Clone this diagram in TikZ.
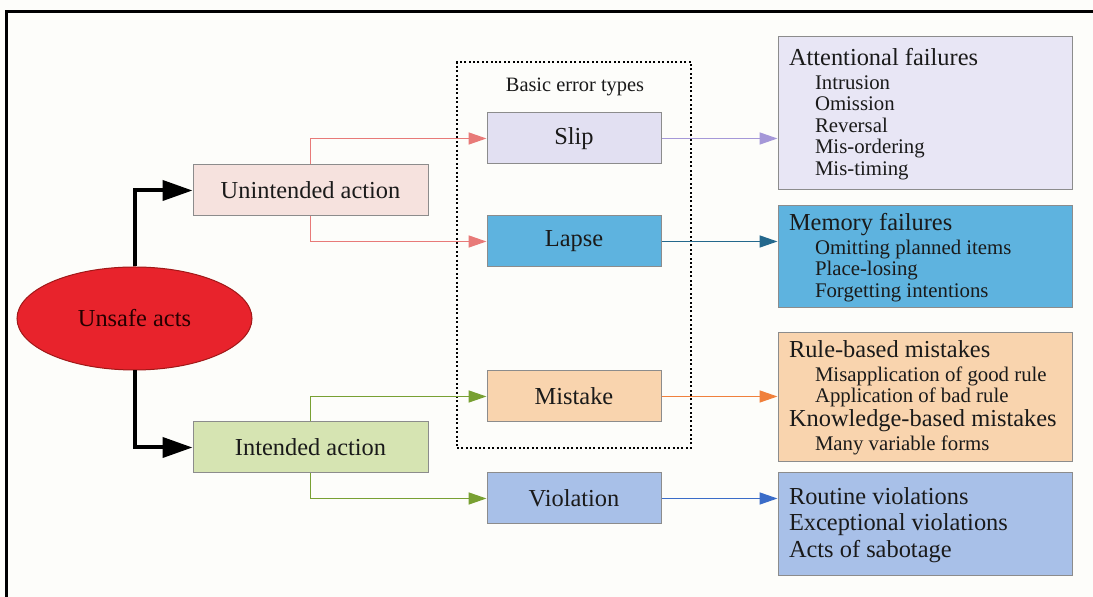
\documentclass[tikz,border=0pt]{standalone}
\usepackage{fontspec}
\setmainfont{Liberation Serif}
\usetikzlibrary{arrows.meta,shapes.geometric}

\definecolor{paper}{HTML}{FDFDFA}
\definecolor{ink}{HTML}{1A1A1A}
\definecolor{edge}{HTML}{8C8C8C}
\definecolor{actred}{HTML}{E8232C}
\definecolor{actedge}{HTML}{A01818}
\definecolor{unfill}{HTML}{F6E2DE}
\definecolor{infill}{HTML}{D6E4B2}
\definecolor{slipfill}{HTML}{E2E0F2}
\definecolor{attfill}{HTML}{E8E6F5}
\definecolor{lapsefill}{HTML}{5EB3DF}
\definecolor{mistfill}{HTML}{F9D4AE}
\definecolor{violfill}{HTML}{A8C0E8}
\definecolor{redarrow}{HTML}{E87A78}
\definecolor{greenarrow}{HTML}{78A032}
\definecolor{purplearrow}{HTML}{A598D8}
\definecolor{tealarrow}{HTML}{24688C}
\definecolor{orangearrow}{HTML}{F0803C}
\definecolor{bluearrow}{HTML}{3A6CC8}

\newcommand{\mainsize}{\fontsize{12.2}{14}\selectfont}
% one heading line of a list box
\newcommand{\listhead}[1]{\par{\fontsize{12.2}{12}\selectfont #1\par}\vspace{1.3pt}}
% one indented item line of a list box
\newcommand{\listitem}[1]{\par{\fontsize{10.4}{10.7}\selectfont\hspace*{13pt}#1\par}}
% one plain line of large text
\newcommand{\listplain}[1]{\par{\fontsize{12.2}{13.3}\selectfont #1\par}}
% fixed-height text block: #1 height, #2 space above first line, #3 lines
\newcommand{\listblock}[3]{\parbox[c][#1][t]{136pt}{\vspace*{#2}#3}}

\begin{document}
\begin{tikzpicture}[x=0.5pt,y=-0.5pt,
  every node/.style={text=ink},
  actbox/.style={draw=edge, line width=0.5pt, minimum width=117.5pt,
    minimum height=25.5pt, inner sep=0pt, font=\mainsize},
  errbox/.style={draw=edge, line width=0.5pt, minimum width=87pt,
    minimum height=25.5pt, inner sep=0pt, font=\mainsize},
  listbox/.style={draw=edge, line width=0.5pt,
    inner xsep=5.5pt, inner ysep=0pt},
  bigarrow/.style={line width=2pt, line join=miter,
    -{Triangle[length=15pt,width=10pt]}},
  thinarrow/.style={line width=0.8pt,
    -{Triangle[length=9pt,width=6pt]}}
]
% paper and frame
\fill[paper] (0,0) rectangle (1093,597);
\useasboundingbox (0,0) rectangle (1093,597);
\draw[line width=1.5pt, black] (6,597) -- (6,12) -- (1093,12);

% group of basic error types
\node[draw=black, line width=1pt, dash pattern=on 1pt off 1.2pt,
  minimum width=117pt, minimum height=193pt, inner sep=0pt] (group) at (574,255) {};
\node[font=\fontsize{10.2}{12}\selectfont] (grouplabel) at (575,87) {Basic error types};

% root
\node[ellipse, draw=actedge, line width=0.5pt, fill=actred,
  minimum width=117.5pt, minimum height=51.5pt, inner sep=0pt,
  font=\mainsize, text=black!85!red] (ua) at (134.5,318.5) {Unsafe acts};

% actions
\node[actbox, fill=unfill] (un) at (310.5,190.5) {Unintended action};
\node[actbox, fill=infill] (in) at (310.5,447.5) {Intended action};

% error types
\node[errbox, fill=slipfill]  (slip) at (574,138.5) {Slip};
\node[errbox, fill=lapsefill] (lapse) at (574,241.5) {Lapse};
\node[errbox, fill=mistfill]  (mist) at (574,396.5) {Mistake};
\node[errbox, fill=violfill]  (viol) at (574,498.5) {Violation};

% failure lists
\node[listbox, fill=attfill] (att) at (925,113.5) {\listblock{76.5pt}{5.7pt}{%
  \listhead{Attentional failures}
  \listitem{Intrusion}
  \listitem{Omission}
  \listitem{Reversal}
  \listitem{Mis-ordering}
  \listitem{Mis-timing}}};
\node[listbox, fill=lapsefill] (mem) at (925,257) {\listblock{51pt}{3.7pt}{%
  \listhead{Memory failures}
  \listitem{Omitting planned items}
  \listitem{Place-losing}
  \listitem{Forgetting intentions}}};
\node[listbox, fill=mistfill] (rule) at (925,397.5) {\listblock{64.5pt}{3.7pt}{%
  \listhead{Rule-based mistakes}
  \listitem{Misapplication of good rule}
  \listitem{Application of bad rule}
  \listhead{Knowledge-based mistakes}
  \listitem{Many variable forms}}};
\node[listbox, fill=violfill] (rout) at (925,524.5) {\listblock{51.5pt}{7.2pt}{%
  \listplain{Routine violations}
  \listplain{Exceptional violations}
  \listplain{Acts of sabotage}}};

% connectors
\draw[bigarrow] (ua.north) |- (un.west);
\draw[bigarrow] (ua.south) |- (in.west);

\draw[thinarrow, redarrow] (un.north) |- (slip.west);
\draw[thinarrow, redarrow] (un.south) |- (lapse.west);
\draw[thinarrow, greenarrow] (in.north) |- (mist.west);
\draw[thinarrow, greenarrow] (in.south) |- (viol.west);

\draw[thinarrow, purplearrow] (slip.east) -- (slip.east -| att.west);
\draw[thinarrow, tealarrow] (lapse.east) -- (lapse.east -| mem.west);
\draw[thinarrow, orangearrow] (mist.east) -- (mist.east -| rule.west);
\draw[thinarrow, bluearrow] (viol.east) -- (viol.east -| rout.west);
\end{tikzpicture}
\end{document}
